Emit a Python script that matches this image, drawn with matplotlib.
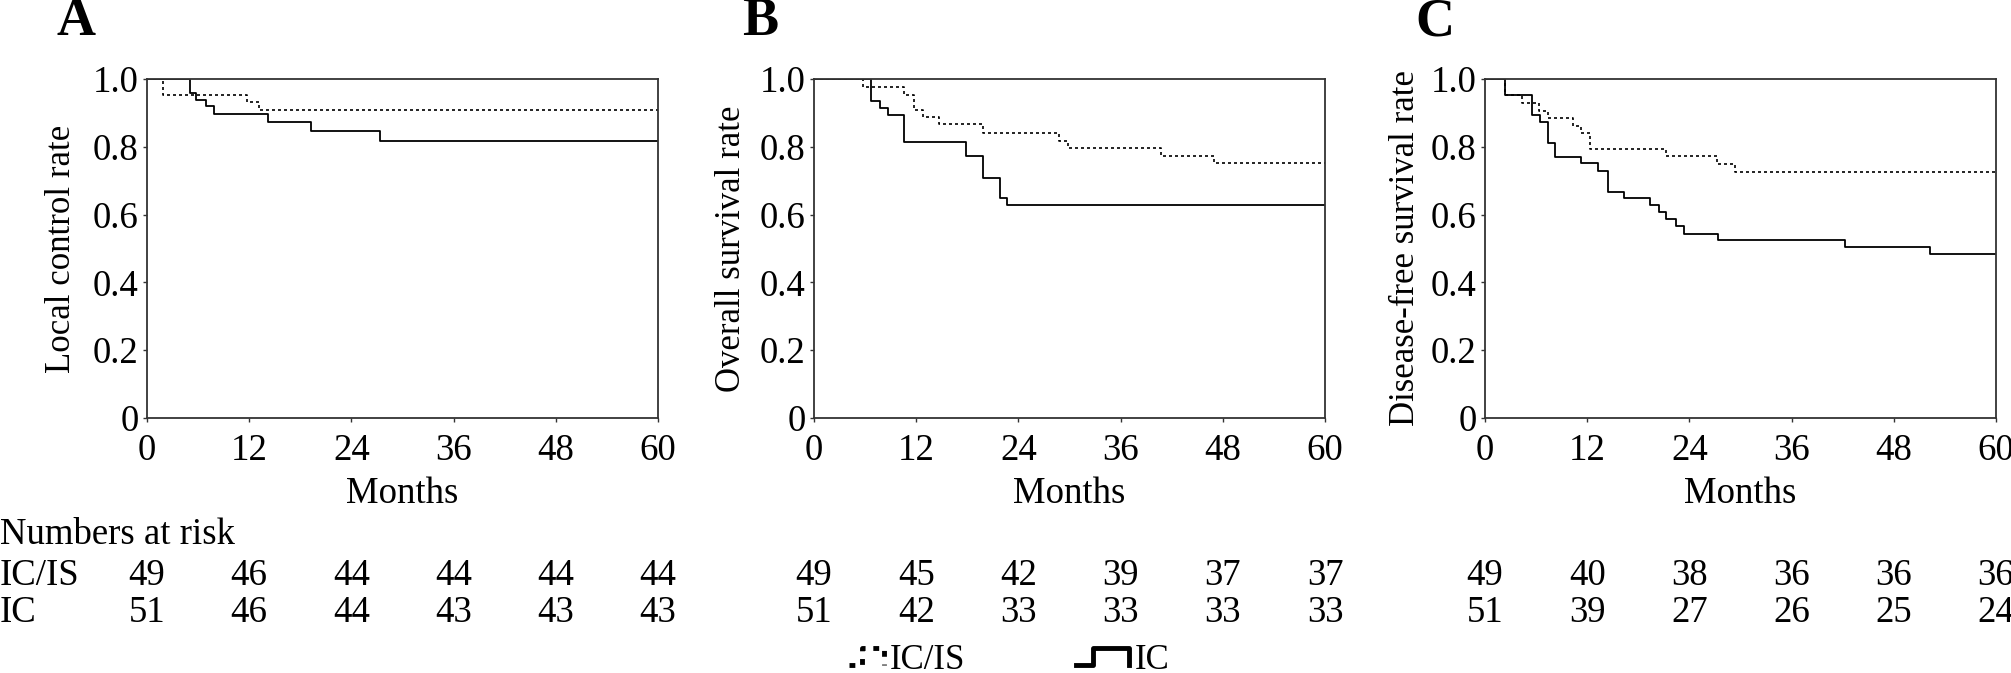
import matplotlib
matplotlib.use("Agg")
import matplotlib.pyplot as plt
from matplotlib.lines import Line2D
from matplotlib.transforms import blended_transform_factory

plt.rcParams['font.family'] = ['Liberation Serif', 'DejaVu Serif']

# ---------------- data ----------------
months_ticks = [0, 12, 24, 36, 48, 60]
y_ticks = [0, 0.2, 0.4, 0.6, 0.8, 1.0]
y_ticklabels = ["0", "0.2", "0.4", "0.6", "0.8", "1.0"]
panel_letters = ["A", "B", "C"]
y_titles = ["Local control rate", "Overall survival rate", "Disease-free survival rate"]
group_names = ["IC/IS", "IC"]

# Panel A - local control
a_icis_t = [0, 1.9, 11.8, 13.2, 60]
a_icis_s = [1.0, 0.954, 0.932, 0.908, 0.908]
a_ic_t = [0, 5.0, 5.8, 6.9, 7.9, 14.2, 19.3, 27.3, 60]
a_ic_s = [1.0, 0.960, 0.938, 0.920, 0.896, 0.872, 0.846, 0.817, 0.817]

# Panel B - overall survival
b_icis_t = [0, 5.75, 10.6, 11.8, 12.85, 14.7, 19.8, 28.8, 29.8, 40.8, 47.0, 60]
b_icis_s = [1.0, 0.976, 0.954, 0.909, 0.887, 0.866, 0.842, 0.818, 0.795, 0.773, 0.753, 0.753]
b_ic_t = [0, 6.65, 7.8, 8.7, 10.6, 17.8, 19.8, 21.8, 22.7, 60]
b_ic_s = [1.0, 0.936, 0.915, 0.894, 0.813, 0.772, 0.709, 0.650, 0.629, 0.629]

# Panel C - disease-free survival
c_icis_t = [0, 2.3, 4.3, 6.3, 7.4, 10.3, 11.3, 12.3, 21.3, 27.2, 29.4, 60]
c_icis_s = [1.0, 0.952, 0.929, 0.905, 0.884, 0.861, 0.840, 0.793, 0.773, 0.750, 0.726, 0.726]
c_ic_t = [0, 2.3, 5.5, 6.4, 7.4, 8.2, 11.3, 13.3, 14.4, 16.3, 19.4, 20.4, 21.3,
          22.4, 23.4, 27.4, 42.3, 52.3, 60]
c_ic_s = [1.0, 0.952, 0.893, 0.872, 0.810, 0.770, 0.751, 0.730, 0.667, 0.650, 0.628,
          0.608, 0.588, 0.566, 0.544, 0.524, 0.504, 0.484, 0.484]

# Numbers at risk
a_risk_icis = [49, 46, 44, 44, 44, 44]
a_risk_ic = [51, 46, 44, 43, 43, 43]
b_risk_icis = [49, 45, 42, 39, 37, 37]
b_risk_ic = [51, 42, 33, 33, 33, 33]
c_risk_icis = [49, 40, 38, 36, 36, 36]
c_risk_ic = [51, 39, 27, 26, 25, 24]

curves = [
    ((a_icis_t, a_icis_s), (a_ic_t, a_ic_s)),
    ((b_icis_t, b_icis_s), (b_ic_t, b_ic_s)),
    ((c_icis_t, c_icis_s), (c_ic_t, c_ic_s)),
]
risks = [(a_risk_icis, a_risk_ic), (b_risk_icis, b_risk_ic), (c_risk_icis, c_risk_ic)]

# ---------------- layout ----------------
W, H = 2011, 673
fig = plt.figure(figsize=(W / 100, H / 100), dpi=100)

def fx(px):
    return px / W

def fy(py):
    return 1 - py / H

ax_left_px = [147, 814, 1485]
ax_w_px = 511
ax_top_px, ax_bot_px = 79, 418
ylabel_x_px = [62, 732, 1406]
letter_x_px = [76, 760, 1435]

FS = 26.5
FS_Y = 25
dotted = (0, (1.8, 1.8))
spine_col = "#333333"

for i in range(3):
    ax = fig.add_axes([fx(ax_left_px[i]), fy(ax_bot_px), fx(ax_w_px), (ax_bot_px - ax_top_px) / H])
    (t1, s1), (t2, s2) = curves[i]
    ax.step(t1, s1, where="post", color="black", lw=1.2, linestyle=dotted)
    ax.step(t2, s2, where="post", color="black", lw=1.3)
    ax.set_xlim(0, 60)
    ax.set_ylim(0, 1.0)
    ax.set_xticks(months_ticks)
    ax.set_xticklabels([str(m) for m in months_ticks], fontsize=FS)
    ax.set_yticks(y_ticks)
    ax.set_yticklabels(y_ticklabels, fontsize=FS)
    ax.tick_params(axis="both", direction="out", length=3, width=1.0, color=spine_col)
    ax.tick_params(axis="x", pad=8)
    ax.tick_params(axis="y", pad=3)
    for sp in ax.spines.values():
        sp.set_linewidth(1.3)
        sp.set_color(spine_col)
    ax.text(0.5, (ax_bot_px - 503) / (ax_bot_px - ax_top_px), "Months", transform=ax.transAxes,
            ha="center", va="baseline", fontsize=FS)
    fig.text(fx(ylabel_x_px[i]), fy((ax_top_px + ax_bot_px) / 2), y_titles[i],
             rotation=90, ha="center", va="center", fontsize=FS_Y)
    fig.text(fx(letter_x_px[i]), fy(35), panel_letters[i], ha="center", va="baseline",
             fontsize=39, fontweight="bold")
    # numbers at risk
    tr = blended_transform_factory(ax.transData, fig.transFigure)
    r1, r2 = risks[i]
    for m, v in zip(months_ticks, r1):
        ax.text(m, fy(585), str(v), transform=tr, ha="center", va="baseline", fontsize=FS,
                clip_on=False)
    for m, v in zip(months_ticks, r2):
        ax.text(m, fy(622), str(v), transform=tr, ha="center", va="baseline", fontsize=FS,
                clip_on=False)

fig.text(0.0, fy(544), "Numbers at risk", ha="left", va="baseline", fontsize=FS)
fig.text(0.0, fy(585), group_names[0], ha="left", va="baseline", fontsize=FS)
fig.text(0.0, fy(622), group_names[1], ha="left", va="baseline", fontsize=FS)

# legend (custom step icons)
lo, hi = fy(665), fy(648)
fig.add_artist(Line2D([fx(849), fx(862), fx(862), fx(884), fx(884), fx(884)],
                      [lo, lo, hi, hi, fy(656), lo], color="black", lw=3.5,
                      linestyle=(0, (1.2, 1.6)), transform=fig.transFigure))
fig.text(fx(890), fy(669), group_names[0], ha="left", va="baseline", fontsize=FS_Y)
fig.add_artist(Line2D([fx(1076), fx(1093), fx(1093), fx(1129), fx(1129)],
                      [lo, lo, hi, hi, lo], color="black", lw=3.5,
                      transform=fig.transFigure))
fig.text(fx(1135), fy(669), group_names[1], ha="left", va="baseline", fontsize=FS_Y)

fig.savefig("out.png", dpi=100)
